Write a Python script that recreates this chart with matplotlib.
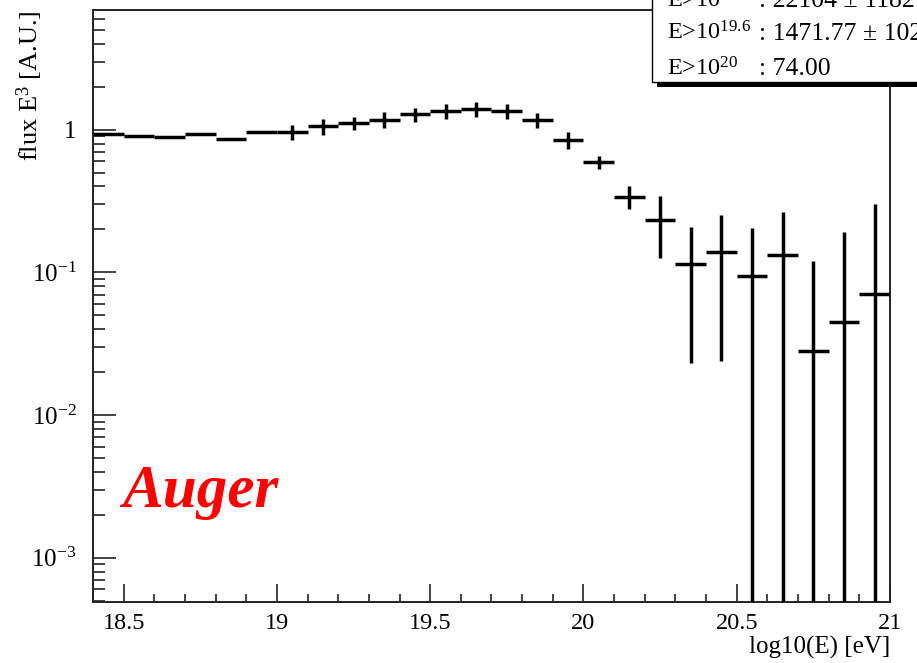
import math
import matplotlib
matplotlib.use("Agg")
import matplotlib.pyplot as plt
from matplotlib.patches import Rectangle
from matplotlib.ticker import MultipleLocator, LogLocator, FuncFormatter, NullFormatter

plt.rcParams["font.family"] = ["Liberation Serif", "DejaVu Serif"]
plt.rcParams["mathtext.fontset"] = "custom"
plt.rcParams["mathtext.rm"] = "Liberation Serif"
plt.rcParams["mathtext.it"] = "Liberation Serif:italic"

# Energy bins (bin centres in log10(E/eV)) and flux * E^3 with errors
bin_width = 0.1
log_e = [18.45, 18.55, 18.65, 18.75, 18.85, 18.95, 19.05, 19.15, 19.25,
         19.35, 19.45, 19.55, 19.65, 19.75, 19.85, 19.95, 20.05, 20.15,
         20.25, 20.35, 20.45, 20.55, 20.65, 20.75, 20.85, 20.95]
flux = [0.933, 0.898, 0.883, 0.933, 0.865, 0.963, 0.963, 1.055, 1.114,
        1.175, 1.280, 1.344, 1.397, 1.344, 1.175, 0.851, 0.594, 0.338,
        0.234, 0.115, 0.139, 0.094, 0.132, 0.028, 0.045, 0.071]
flux_err = [0.0, 0.0, 0.0, 0.0, 0.0, 0.0, 0.12, 0.13, 0.12,
            0.15, 0.15, 0.16, 0.17, 0.16, 0.14, 0.12, 0.06, 0.062,
            0.107, 0.092, 0.115, 0.111, 0.132, 0.092, 0.146, 0.231]

stat_labels = [r"E>10$^{19}$", r"E>10$^{19.6}$", r"E>10$^{20}$"]
stat_values = [": 22104 \u00b1 1182", ": 1471.77 \u00b1 102", ": 74.00"]

W, H = 917, 663
fig = plt.figure(figsize=(W / 100, H / 100), dpi=100)
ax = fig.add_axes([93 / W, 1 - 602 / H, (890 - 93) / W, (602 - 10) / H])

ax.set_yscale("log")
ax.set_xlim(18.4, 21.0)
ax.set_ylim(4.9e-4, 6.9)

ax.errorbar(log_e, flux, xerr=bin_width / 2, yerr=flux_err, fmt="none",
            ecolor="black", elinewidth=2.5, capsize=0, zorder=3)

# ticks, ROOT style (inside, bottom/left only)
ax.xaxis.set_major_locator(MultipleLocator(0.5))
ax.xaxis.set_minor_locator(MultipleLocator(0.1))
ax.xaxis.set_major_formatter(FuncFormatter(lambda v, p: f"{v:g}"))
ax.yaxis.set_major_locator(LogLocator(base=10, numticks=10))
ax.yaxis.set_minor_locator(LogLocator(base=10, subs=range(2, 10), numticks=20))
ax.yaxis.set_minor_formatter(NullFormatter())


def ylab(v, pos):
    if abs(v - 1) < 1e-9:
        return "1"
    e = int(round(math.log10(v)))
    return r"$\mathregular{10^{%d}}$" % e


ax.yaxis.set_major_formatter(FuncFormatter(ylab))
ax.tick_params(axis="both", which="both", direction="in", top=False, right=False,
               colors="#222222", width=1.2, labelcolor="black")
ax.tick_params(axis="y", which="major", length=16.5, pad=12, labelsize=18)
ax.tick_params(axis="y", which="minor", length=8.5)
ax.tick_params(axis="x", which="major", length=13, pad=8, labelsize=17.5)
ax.tick_params(axis="x", which="minor", length=6)
for s in ax.spines.values():
    s.set_color("#222222")
    s.set_linewidth(1.4)

ax.set_ylabel(r"flux E$^{3}$ [A.U.]", loc="top", fontsize=19)
ax.yaxis.set_label_coords(-0.060, 1.0)
ax.set_xlabel("log10(E) [eV]", loc="right", fontsize=18)
ax.xaxis.set_label_coords(1.0, -0.058)

ax.text(0.037, 0.160, "Auger", transform=ax.transAxes, color="#ff0000",
        fontsize=44, fontweight="bold", fontstyle="italic",
        ha="left", va="baseline")

# statistics box in the upper right corner (with shadow)
fig.add_artist(Rectangle((657 / W, 1 - 87 / H), 0.5, 0.5,
                         transform=fig.transFigure, facecolor="black",
                         edgecolor="none", zorder=10))
fig.add_artist(Rectangle((652 / W, 1 - 82 / H), 0.5, 0.5,
                         transform=fig.transFigure, facecolor="white",
                         edgecolor="black", linewidth=1.0, zorder=11))
baselines = [7, 40, 75]
for lab, val, yb in zip(stat_labels, stat_values, baselines):
    fig.text(667 / W, 1 - yb / H, lab, fontsize=17.5, ha="left", va="baseline",
             zorder=12)
    fig.text(759 / W, 1 - yb / H, val, fontsize=18.5, ha="left", va="baseline",
             zorder=12)

fig.savefig("out.png", dpi=100)
